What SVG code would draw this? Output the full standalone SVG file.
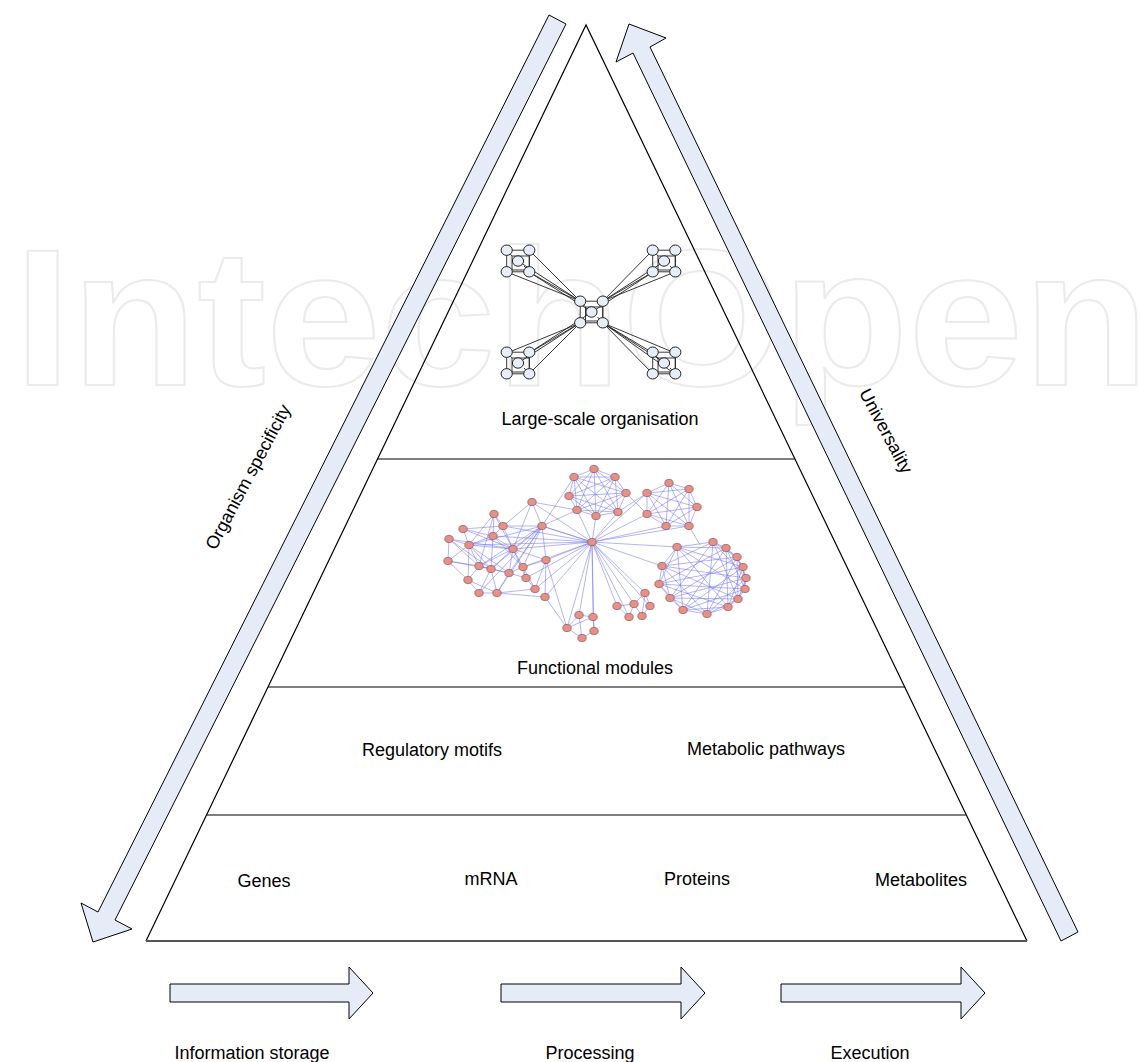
<svg xmlns="http://www.w3.org/2000/svg" width="1140" height="1062" viewBox="0 0 1140 1062">
<style>
.lbl{font-family:"Liberation Sans",Arial,sans-serif;font-size:18px;fill:#000;text-anchor:middle}
.arr{fill:#e6ecf7;stroke:#000;stroke-width:1;stroke-linejoin:miter}
.ln{stroke:#000;stroke-width:1.2;fill:none}
.tn{fill:#e8eef8;stroke:#222;stroke-width:1}
.te{stroke:#222;stroke-width:0.9;fill:none}
.fe{stroke:#6f6ff5;stroke-width:0.7;fill:none;opacity:0.75}
.fn{fill:#e3928a;stroke:#9a4a44;stroke-width:0.7}
</style>
<defs>
<g id="cube">
<path class="te" d="M-11.3 -10.8H11.3V10.8H-11.3Z M-6 -5H11.3 M-6 -5V9 M-6 9H11.3 M11.3 -5V9 M-11.3 -10.8L-6 -5 M11.3 10.8L6 5"/>
<ellipse class="tn" cx="-11.3" cy="-10.8" rx="5.6" ry="5.2"/>
<ellipse class="tn" cx="11.3" cy="-10.8" rx="5.6" ry="5.2"/>
<ellipse class="tn" cx="0" cy="0" rx="5.6" ry="5.2"/>
<ellipse class="tn" cx="-11.3" cy="10.8" rx="5.6" ry="5.2"/>
<ellipse class="tn" cx="11.3" cy="10.8" rx="5.6" ry="5.2"/>
</g>
<ellipse id="fnode" class="fn" rx="4.2" ry="3.6"/>
</defs>
<rect width="1140" height="1062" fill="#fff"/>
<g id="watermark">
<text x="14" y="385" font-family="Liberation Sans, Arial, sans-serif" font-weight="bold" font-size="195" fill="none" stroke="#ebebeb" stroke-width="2" textLength="1135" lengthAdjust="spacingAndGlyphs">IntechOpen</text>
</g>
<g id="pyramid">
<path class="ln" d="M146 941L586 25L1027 941"/>
<line x1="146" y1="941" x2="1027" y2="941" stroke="#555" stroke-width="2"/>
<line class="ln" x1="377" y1="459" x2="795" y2="459"/>
<line class="ln" x1="268" y1="687" x2="905" y2="687"/>
<line class="ln" x1="207" y1="815" x2="966" y2="815"/>
</g>
<g id="arrow-organism-specificity">
<polygon class="arr" points="549,15 566,24 115,920 132,929 93,942 81,903 98,912"/>
<text class="lbl" transform="translate(248,477) rotate(-62)" y="6">Organism specificity</text>
</g>
<g id="arrow-universality">
<polygon class="arr" points="1061,941 633,53 616,62 629,24 666,38 650,47 1078,932"/>
<text class="lbl" transform="translate(886,431) rotate(62)" y="6">Universality</text>
</g>
<g id="large-scale-organisation">
<g id="connectors-top">
<path class="te" d="M529 250L580 301M529 272L580 301M507 272L580 301M518 261L580 301M529 272L592 312 M653 250L603 301M653 272L603 301M675 272L603 301M665 261L603 301M653 272L592 312 M507 353L580 323M529 353L580 323M529 374L580 323M518 363L580 323M529 353L592 312 M653 353L603 323M675 353L603 323M653 374L603 323M665 363L603 323M675 374L603 323"/>
</g>
<use href="#cube" x="518" y="261"/>
<use href="#cube" x="664" y="261"/>
<use href="#cube" x="591.5" y="312"/>
<use href="#cube" x="518" y="363"/>
<use href="#cube" x="664" y="363"/>
<text class="lbl" x="600" y="425">Large-scale organisation</text>
</g>
<g id="functional-modules">
<g id="connectors-modules">
<path class="fe" d="M532 502L503 526M532 502L513 549M532 502L542 526M494 514L503 526M494 514L493 536M494 514L469 545M494 514L479 566M463 529L503 526M463 529L469 545M463 529L493 536M503 526L542 526M503 526L493 536M503 526L513 549M542 526L513 549M542 526L523 567M542 526L469 545M542 526L479 566M542 526L491 569M542 526L509 573M542 526L479 593M542 526L497 593M493 536L469 545M493 536L513 549M493 536L491 569M449 539L469 545M449 539L479 566M449 539L448 561M449 539L513 549M469 545L513 549M469 545L479 566M469 545L491 569M469 545L509 573M469 545L468 580M513 549L546 560M513 549L491 569M513 549L523 567M513 549L509 573M513 549L526 578M513 549L479 566M448 561L479 566M448 561L468 580M448 561L469 545M479 566L491 569M479 566L468 580M479 566L509 573M491 569L509 573M491 569L479 593M491 569L497 593M523 567L509 573M523 567L526 578M523 567L535 589M509 573L526 578M509 573L497 593M526 578L535 589M468 580L479 593M468 580L497 593M479 593L497 593M497 593L545 597M497 593L535 589M546 560L535 589M546 560L545 597M542 526L546 560M523 567L546 560M463 529L513 549M448 561L491 569M493 536L523 567M494 514L513 549M449 539L491 569"/>
<path class="fe" d="M592 542L532 502M592 542L542 526M592 542L513 549M592 542L546 560M592 542L523 567M592 542L526 578M592 542L535 589M592 542L545 597M592 542L503 526M592 542L493 536M592 542L469 545M592 542L577 510M592 542L596 516M592 542L618 512M592 542L647 493M592 542L647 514M592 542L666 526M592 542L689 526M592 542L662 566M592 542L677 547M592 542L645 593M592 542L634 604M592 542L617 606M592 542L650 606M592 542L629 617M592 542L579 615M592 542L593 617M592 542L567 628M592 542L594 631M532 502L577 510M542 526L574 477M542 526L577 510M546 560L567 628M545 597L567 628M689 526L700 545M618 512L647 493M626 493L647 514M542 526L592 542"/>
<path class="fe" d="M594 469L615 477L626 493L618 512L596 516L577 510L569 496L574 477Z M594 469L626 493L596 516L569 496Z M615 477L618 512L577 510L574 477Z M594 469L618 512L569 496L615 477L596 516L574 477L626 493L577 510Z M594 469L596 516M615 477L577 510M626 493L569 496M618 512L574 477"/>
<path class="fe" d="M669 483L689 489L697 507L689 526L666 526L647 514L647 493Z M669 483L697 507L666 526L647 493L689 489L689 526L647 514Z M669 483L689 526L647 493L697 507L647 514L689 489L666 526Z"/>
<path class="fe" d="M677 547L713 542L726 548L737 557L743 567L746 578L745 589L738 599L728 607L707 614L683 610L670 598L659 584L662 566Z M677 547L726 548L743 567L745 589L728 607L683 610L659 584Z M713 542L737 557L746 578L738 599L707 614L670 598L662 566Z M677 547L743 567L728 607L659 584L726 548L745 589L683 610Z M713 542L746 578L707 614L662 566L737 557L738 599L670 598Z M677 547L745 589L659 584L743 567L683 610L726 548L728 607Z M713 542L738 599L662 566L746 578L670 598L737 557L707 614Z"/>
<path class="fe" d="M645 593L634 604M645 593L650 606M634 604L617 606M634 604L629 617M634 604L642 616M650 606L642 616M617 606L629 617M645 593L642 616M579 615L593 617M579 615L567 628M593 617L594 631M567 628L582 638M594 631L582 638M593 617L567 628M579 615L582 638"/>
</g>
<g id="module-nodes">
<use href="#fnode" x="532" y="502"/><use href="#fnode" x="494" y="514"/><use href="#fnode" x="463" y="529"/><use href="#fnode" x="503" y="526"/><use href="#fnode" x="542" y="526"/><use href="#fnode" x="493" y="536"/><use href="#fnode" x="449" y="539"/><use href="#fnode" x="469" y="545"/><use href="#fnode" x="513" y="549"/><use href="#fnode" x="448" y="561"/><use href="#fnode" x="546" y="560"/><use href="#fnode" x="479" y="566"/><use href="#fnode" x="491" y="569"/><use href="#fnode" x="523" y="567"/><use href="#fnode" x="509" y="573"/><use href="#fnode" x="526" y="578"/><use href="#fnode" x="468" y="580"/><use href="#fnode" x="535" y="589"/><use href="#fnode" x="479" y="593"/><use href="#fnode" x="497" y="593"/><use href="#fnode" x="545" y="597"/>
<use href="#fnode" x="592" y="542"/>
<use href="#fnode" x="594" y="469"/><use href="#fnode" x="615" y="477"/><use href="#fnode" x="626" y="493"/><use href="#fnode" x="618" y="512"/><use href="#fnode" x="596" y="516"/><use href="#fnode" x="577" y="510"/><use href="#fnode" x="569" y="496"/><use href="#fnode" x="574" y="477"/>
<use href="#fnode" x="669" y="483"/><use href="#fnode" x="689" y="489"/><use href="#fnode" x="697" y="507"/><use href="#fnode" x="689" y="526"/><use href="#fnode" x="666" y="526"/><use href="#fnode" x="647" y="514"/><use href="#fnode" x="647" y="493"/>
<use href="#fnode" x="677" y="547"/><use href="#fnode" x="713" y="542"/><use href="#fnode" x="726" y="548"/><use href="#fnode" x="737" y="557"/><use href="#fnode" x="743" y="567"/><use href="#fnode" x="746" y="578"/><use href="#fnode" x="745" y="589"/><use href="#fnode" x="738" y="599"/><use href="#fnode" x="728" y="607"/><use href="#fnode" x="707" y="614"/><use href="#fnode" x="683" y="610"/><use href="#fnode" x="670" y="598"/><use href="#fnode" x="659" y="584"/><use href="#fnode" x="662" y="566"/>
<use href="#fnode" x="645" y="593"/><use href="#fnode" x="634" y="604"/><use href="#fnode" x="617" y="606"/><use href="#fnode" x="650" y="606"/><use href="#fnode" x="629" y="617"/><use href="#fnode" x="642" y="616"/>
<use href="#fnode" x="579" y="615"/><use href="#fnode" x="593" y="617"/><use href="#fnode" x="567" y="628"/><use href="#fnode" x="594" y="631"/><use href="#fnode" x="582" y="638"/>
</g>
<text class="lbl" x="595" y="674">Functional modules</text>
</g>
<g id="motifs-layer">
<text class="lbl" x="432" y="756">Regulatory motifs</text>
<text class="lbl" x="766" y="755">Metabolic pathways</text>
</g>
<g id="components-layer">
<text class="lbl" x="264" y="887">Genes</text>
<text class="lbl" x="491" y="885">mRNA</text>
<text class="lbl" x="697" y="885">Proteins</text>
<text class="lbl" x="921" y="886">Metabolites</text>
</g>
<g id="flow-information-storage">
<polygon class="arr" points="170,984 349,984 349,967 373,993 349,1019 349,1002 170,1002"/>
<text class="lbl" x="252" y="1059">Information storage</text>
</g>
<g id="flow-processing">
<polygon class="arr" points="501,984 681,984 681,967 705,993 681,1019 681,1002 501,1002"/>
<text class="lbl" x="590" y="1059">Processing</text>
</g>
<g id="flow-execution">
<polygon class="arr" points="781,984 961,984 961,967 985,993 961,1019 961,1002 781,1002"/>
<text class="lbl" x="870" y="1059">Execution</text>
</g>
</svg>
